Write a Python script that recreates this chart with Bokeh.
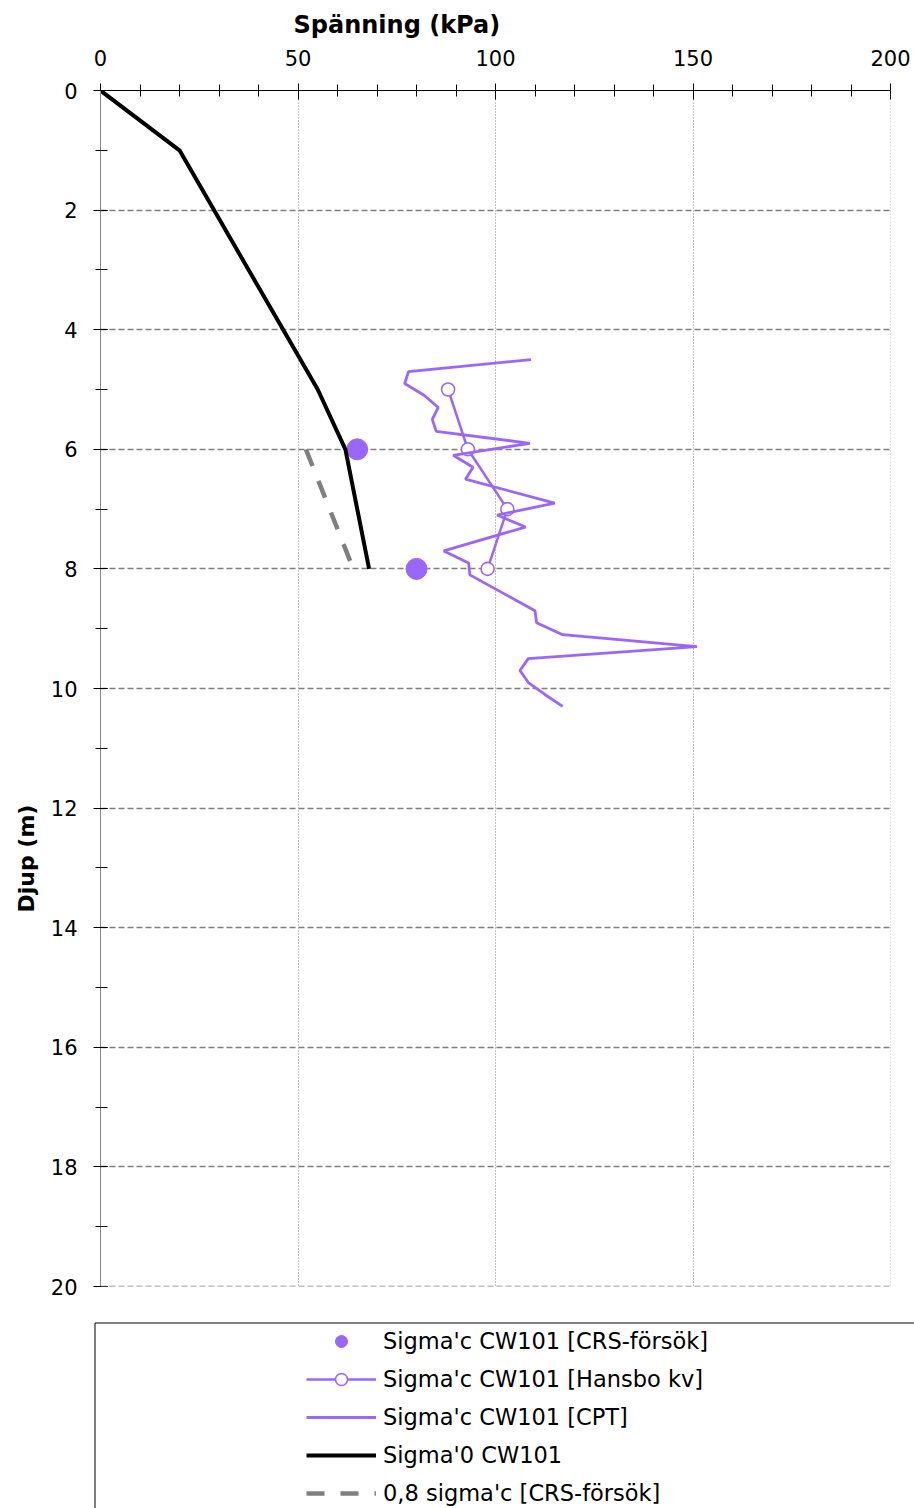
from bokeh.embed import file_html
from bokeh.layouts import column
from bokeh.models import (BoxAnnotation, FixedTicker, Legend, LegendItem,
                          Range1d, Span, Title)
from bokeh.plotting import figure
from bokeh.resources import INLINE

FONT = "DejaVu Sans"
PURPLE = "#9966FF"
GRAY = "#808080"

# Axis ticks
x_ticks = [0, 50, 100, 150, 200]
x_minor = list(range(0, 201, 10))
y_ticks = list(range(0, 21, 2))
y_minor = list(range(0, 21))

# Effective vertical stress Sigma'0 CW101
sigma0_depth = [0, 1, 5, 6, 8]
sigma0 = [0, 20, 55, 62, 68]

# Preconsolidation pressure from CRS tests
crs_depth = [6, 8]
crs = [65, 80]

# 0.8 x sigma'c from CRS tests
crs08_depth = [6, 8]
crs08 = [52, 64]

# Preconsolidation pressure, Hansbo (fall cone)
hansbo_depth = [5, 6, 7, 8]
hansbo = [88, 93, 103, 98]

# Preconsolidation pressure evaluated from CPT
cpt_depth = [4.5, 4.7, 4.9, 5.1, 5.3, 5.5, 5.7, 5.9, 6.1, 6.3, 6.5, 6.9, 7.1,
             7.3, 7.7, 7.9, 8.1, 8.7, 8.9, 9.1, 9.3, 9.5, 9.7, 9.9, 10.1, 10.3]
cpt = [109, 78, 77, 82, 85.5, 84, 85, 108.7, 89.3, 94.3, 92.4, 115, 100.4,
       107.6, 86.9, 93.2, 93.5, 110, 110.4, 117, 151, 108.3, 106.2, 108.3,
       112.5, 117]

labels = [
    "Sigma'c CW101 [CRS-försök]",
    "Sigma'c CW101 [Hansbo kv]",
    "Sigma'c CW101 [CPT]",
    "Sigma'0 CW101",
    "0,8 sigma'c [CRS-försök]",
]

# ---------------------------------------------------------------- main plot
p = figure(width=914, height=1310,
           x_range=Range1d(0, 200), y_range=Range1d(20, 0),
           x_axis_location="above", title="Spänning (kPa)",
           toolbar_location=None, output_backend="svg",
           min_border_left=100, min_border_right=24,
           min_border_top=90, min_border_bottom=24)
p.outline_line_color = None

p.title.text_font = FONT
p.title.text_font_style = "bold"
p.title.text_font_size = "24px"
p.title.text_color = "black"
p.title.align = "left"
p.title.offset = 193
p.title.standoff = 15

p.add_layout(Title(text="Djup (m)", align="left", offset=374, standoff=18,
                   text_font=FONT, text_font_style="bold",
                   text_font_size="22px", text_color="black"), "left")

xa = p.xaxis[0]
xa.ticker = FixedTicker(ticks=x_ticks, minor_ticks=x_minor)
xa.axis_line_color = "black"
xa.axis_line_width = 1
xa.major_tick_line_color = "black"
xa.minor_tick_line_color = "black"
xa.major_tick_in = 9
xa.major_tick_out = 7
xa.minor_tick_in = 6
xa.minor_tick_out = 6
xa.major_label_standoff = 18
xa.major_label_text_font = FONT
xa.major_label_text_font_size = "21px"
xa.major_label_text_color = "black"

ya = p.yaxis[0]
ya.ticker = FixedTicker(ticks=y_ticks, minor_ticks=y_minor)
ya.axis_line_color = "#868686"
ya.axis_line_width = 1
ya.major_tick_line_color = "black"
ya.minor_tick_line_color = "black"
ya.major_tick_in = 7
ya.major_tick_out = 7
ya.minor_tick_in = 7
ya.minor_tick_out = 5
ya.major_label_standoff = 16
ya.major_label_text_font = FONT
ya.major_label_text_font_size = "21px"
ya.major_label_text_color = "black"

p.xgrid.ticker = FixedTicker(ticks=x_ticks[1:])
p.xgrid.grid_line_color = GRAY
p.xgrid.grid_line_width = 1
p.xgrid.grid_line_dash = "1 2"
p.ygrid.ticker = FixedTicker(ticks=y_ticks[1:])
p.ygrid.grid_line_color = GRAY
p.ygrid.grid_line_width = 1.3
p.ygrid.grid_line_dash = "6 3"

# Grid lines on the far edges of the plotting area
p.add_layout(Span(location=x_ticks[-1], dimension="height",
                  line_color=GRAY, line_width=1, line_dash="1 2"))
p.add_layout(Span(location=y_ticks[-1], dimension="width",
                  line_color=GRAY, line_width=1.3, line_dash="6 3"))

# Series
p.scatter(crs, crs_depth, size=21, fill_color=PURPLE, line_color=PURPLE)
p.line(hansbo, hansbo_depth, line_color=PURPLE, line_width=2.5)
p.scatter(hansbo, hansbo_depth, size=13, fill_color="white",
          line_color=PURPLE, line_width=1.6)
p.line(cpt, cpt_depth, line_color=PURPLE, line_width=2.8)
p.line(sigma0, sigma0_depth, line_color="black", line_width=4)
p.line(crs08, crs08_depth, line_color=GRAY, line_width=4.5,
       line_dash="18 16")

# ---------------------------------------------------------------- legend
q = figure(width=914, height=198,
           x_range=Range1d(0, 914), y_range=Range1d(0, 198),
           x_axis_location=None, y_axis_location=None,
           toolbar_location=None, output_backend="svg", min_border=0)
q.frame_align = False
q.outline_line_color = None
q.grid.visible = False

q.add_layout(BoxAnnotation(left=94.5, right=2000, bottom=-100, top=185.5,
                           fill_alpha=0, line_color="black", line_width=1,
                           line_alpha=1))

# Legend swatches (no drawable points of their own)
nan = [float("nan")]
g_crs = q.scatter(nan, nan, size=21, fill_color=PURPLE, line_color=PURPLE)
g_hl = q.line(nan, nan, line_color=PURPLE, line_width=2.5)
g_hm = q.scatter(nan, nan, size=13, fill_color="white", line_color=PURPLE,
                 line_width=1.6)
g_cpt = q.line(nan, nan, line_color=PURPLE, line_width=2.8)
g_s0 = q.line(nan, nan, line_color="black", line_width=4)
g_08 = q.line(nan, nan, line_color=GRAY, line_width=4.5, line_dash="18 16")

legend = Legend(items=[
    LegendItem(label=labels[0], renderers=[g_crs]),
    LegendItem(label=labels[1], renderers=[g_hl, g_hm]),
    LegendItem(label=labels[2], renderers=[g_cpt]),
    LegendItem(label=labels[3], renderers=[g_s0]),
    LegendItem(label=labels[4], renderers=[g_08]),
], location=(306, 0))
legend.border_line_color = None
legend.background_fill_alpha = 0
legend.padding = 0
legend.margin = 0
legend.spacing = 8
legend.glyph_width = 70
legend.glyph_height = 30
legend.label_height = 30
legend.label_standoff = 7
legend.label_text_font = FONT
legend.label_text_font_size = "22.5px"
legend.label_text_color = "black"
q.add_layout(legend)

layout = column(p, q, spacing=0)

with open("out.html", "w") as f:
    f.write(file_html(layout, INLINE))
